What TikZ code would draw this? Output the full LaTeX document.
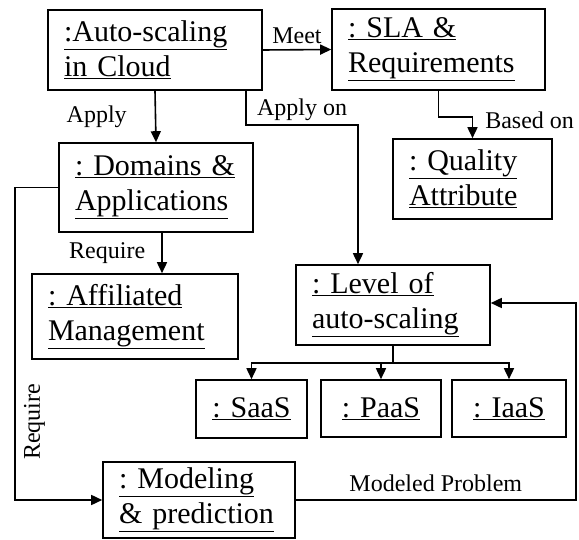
\documentclass[tikz,border=0pt]{standalone}
\usepackage{fontspec}
\setmainfont{Liberation Serif}
\usetikzlibrary{arrows.meta, calc}

\begin{document}
\begin{tikzpicture}[x=1pt, y=-1pt, >={Triangle[length=11pt, width=10pt]}, line width=1.6pt,
	obj/.style={draw, inner xsep=16pt, inner ysep=0pt, align=left, font=\fontsize{30}{35}\selectfont\frenchspacing},
	lvlbox/.style={obj, align=center, inner xsep=4pt},
	lbl/.style={font=\fontsize{24}{28}\selectfont, inner sep=2pt}]
\useasboundingbox (0,0) rectangle (579,540);
%========================
% objects
%========================
\node[obj, text width=182pt, minimum height=80pt] (cloud) at (155,50)
	{\underline{:Auto-scaling}\\ \underline{in Cloud}};
\node[obj, text width=181pt, minimum height=81pt] (sla) at (438.5,49.5)
	{\underline{: SLA \&}\\ \underline{Requirements}};
\node[obj, text width=162pt, minimum height=89pt] (dom) at (156,187.5)
	{\underline{: Domains \&}\\ \underline{Applications}};
\node[obj, text width=127pt, minimum height=80pt] (qual) at (472.5,179)
	{\underline{: Quality}\\ \underline{Attribute}};
\node[obj, text width=174pt, minimum height=85pt] (aff) at (135,316.5)
	{\underline{: Affiliated}\\ \underline{Management}};
\node[obj, text width=162pt, minimum height=80pt] (lvl) at (393,305)
	{\underline{: Level of}\\ \underline{auto-scaling}};
\node[obj, text width=160pt, minimum height=76pt] (model) at (199,500)
	{\underline{: Modeling}\\ \underline{\& prediction}};

% cloud service levels
\node[lvlbox, text width=103pt, minimum height=58pt] (saas) at (251.5,409) {\underline{: SaaS}};
\node[lvlbox, text width=112pt, minimum height=57pt] (paas) at (381,408.5) {\underline{: PaaS}};
\node[lvlbox, text width=106pt, minimum height=57pt] (iaas) at (509,408.5) {\underline{: IaaS}};

%========================
% relations
%========================
\draw[->] (cloud.east) -- node[lbl, midway, above=3pt] {Meet} (sla.west);
\draw[->] (cloud.south) -- node[lbl, midway, left=26pt] {Apply} (dom.north);
\coordinate (applyon) at (246,125);
\draw[->] (cloud.south -| applyon) -- (applyon)
	-| node[lbl, pos=0.25, above=2pt] {Apply on} ([xshift=-35pt]lvl.north);
\draw[->] (sla.south) -- ++(0,26) -| node[lbl, pos=0.5, anchor=west, xshift=10pt, yshift=-3pt] {Based on} (qual.north);
\draw[->] ([xshift=6pt]dom.south) -- node[lbl, midway, left=14pt] {Require} ([xshift=6pt]dom.south |- aff.north);
\draw[->] (dom.west) -- ++(-43,0)
	|- node[lbl, pos=0.375, rotate=90, anchor=north, yshift=-6pt] {Require} (model.west);
\draw[->] (model.east) -- node[lbl, midway, above=5pt] {Modeled Problem} ++(280,0) |- ([yshift=2pt]lvl.east);

% levels of auto-scaling
\foreach \lv in {saas, paas, iaas}
	\draw[->] (lvl.south) -- ++(0,17) -| (\lv.north);
\end{tikzpicture}
\end{document}
